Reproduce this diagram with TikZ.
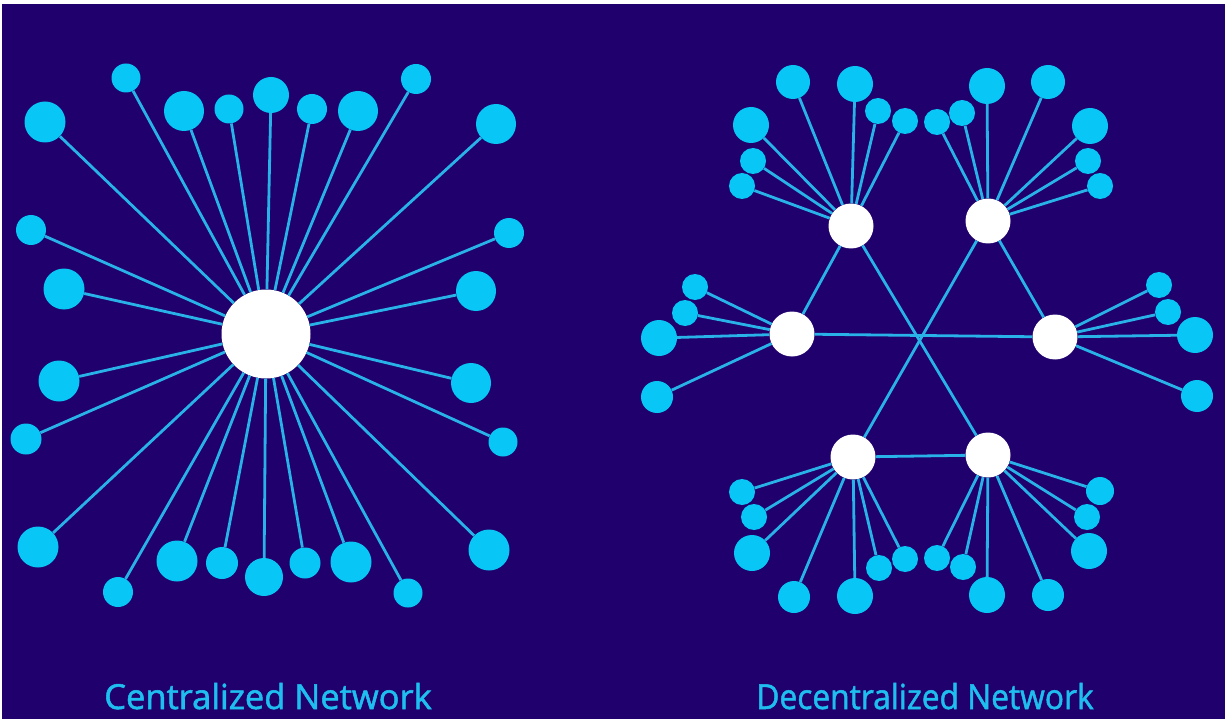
\documentclass[tikz,border=0pt]{standalone}
\usepackage{fontspec}
\setmainfont{Open Sans}
\newfontfamily\lblfont[FakeBold=1.5]{Open Sans}
\definecolor{navy}{RGB}{32,0,108}
\definecolor{leafc}{RGB}{8,198,245}
\definecolor{linec}{RGB}{40,178,232}
\definecolor{textc}{RGB}{30,190,240}
\tikzset{
  leaf/.style={circle,fill=leafc,draw=none,inner sep=0pt},
  hubnode/.style={circle,fill=white,draw=none,inner sep=0pt},
  link/.style={draw=linec,line width=2.8pt},
  lbl/.style={text=textc,font=\lblfont\fontsize{34.5}{40}\selectfont,anchor=base,inner sep=0pt}
}
\begin{document}
\begin{tikzpicture}[x=1pt,y=-1pt]
\useasboundingbox (0,0) rectangle (1225,719);
\fill[white] (0,0) rectangle (1225,719);
\fill[navy] (2,4) rectangle (1225,719);
% ---------- centralized ----------
\node[hubnode,minimum size=89pt] (hub) at (266,334) {};
\foreach \n/\x/\y/\r in {
  1/126/78/14.5, 2/45/122/20.5, 3/184/111/20, 4/229/109/14.5, 5/271/95/18,
  6/312/109/15, 7/358/111/20, 8/416/79/15, 9/496/124/20,
  10/31/230/15, 11/64/289/20.5, 12/59/381/20.5, 13/26/439/15.5, 14/38/547/20.5,
  15/509/233/15, 16/476/291/20, 17/471/383/20, 18/503/442/14.5, 19/489/550/20.5,
  20/118/592/15, 21/177/561/20.5, 22/222/563/16, 23/264/577/19, 24/305/563/15.5,
  25/351/562/20.5, 26/408/593/14.5}{
  \node[leaf,minimum size={2*\r*1pt}] (c\n) at (\x,\y) {};
  \draw[link] (hub) -- (c\n);
}
% ---------- decentralized ----------
\node[hubnode,minimum size=45pt] (h1) at (851,226) {};
\node[hubnode,minimum size=45pt] (h2) at (988,221) {};
\node[hubnode,minimum size=45pt] (h3) at (792,334) {};
\node[hubnode,minimum size=45pt] (h4) at (1055,337) {};
\node[hubnode,minimum size=45pt] (h5) at (853,457) {};
\node[hubnode,minimum size=45pt] (h6) at (988,455) {};
\draw[link] (h1) -- (h3);
\draw[link] (h2) -- (h4);
\draw[link] (h5) -- (h6);
\draw[link] (h1) -- (h6);
\draw[link] (h2) -- (h5);
\draw[link] (h3) -- (h4);
\foreach \h/\n/\x/\y/\r in {
  h1/a1/793/82/17, h1/a2/855/84/18, h1/a3/878/111/13, h1/a4/905/121/13,
  h1/a5/751/125/18, h1/a6/753/161/13, h1/a7/742/186/13,
  h2/b1/937/122/13, h2/b2/962/113/13, h2/b3/987/86/18, h2/b4/1048/82/17,
  h2/b5/1090/126/18, h2/b6/1088/161/13, h2/b7/1100/186/13,
  h3/d1/695/287/13, h3/d2/685/313/13, h3/d3/659/338/18, h3/d4/657/397/16,
  h4/e1/1159/285/13, h4/e2/1168/312/13, h4/e3/1195/335/18, h4/e4/1197/396/16,
  h5/f1/742/492/13, h5/f2/754/517/13, h5/f3/752/553/18, h5/f4/794/597/16,
  h5/f5/855/596/18, h5/f6/879/568/13, h5/f7/905/559/13,
  h6/g1/937/558/13, h6/g2/963/567/13, h6/g3/987/595/18, h6/g4/1048/595/16,
  h6/g5/1089/551/18, h6/g6/1087/517/13, h6/g7/1100/491/14}{
  \node[leaf,minimum size={2*\r*1pt}] (\n) at (\x,\y) {};
  \draw[link] (\h) -- (\n);
}
% ---------- labels ----------
\node[lbl] (t1) at (268,709) {Centralized Network};
\node[lbl,transform shape,xscale=0.92] (t2) at (925,709) {Decentralized Network};
\end{tikzpicture}
\end{document}
